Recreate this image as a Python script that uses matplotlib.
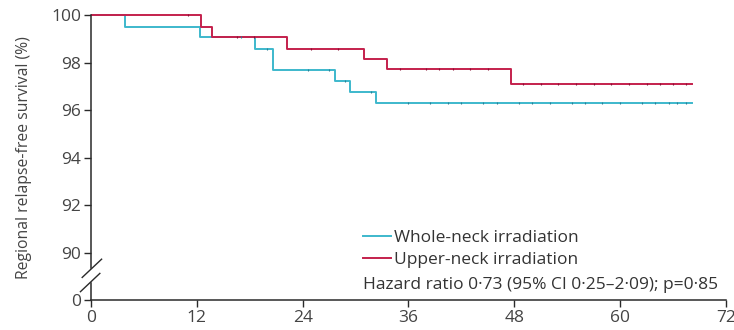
import numpy as np
import matplotlib.pyplot as plt

plt.rcParams['font.family'] = ['Open Sans', 'DejaVu Sans']

# step curves: event times (months) and survival (%) after each step
whole_t = [0, 3.9, 12.4, 18.6, 20.6, 27.7, 29.4, 32.3, 68.2]
whole_s = [100, 99.53, 99.07, 98.6, 97.68, 97.22, 96.76, 96.3, 96.3]
upper_t = [0, 12.5, 13.7, 22.2, 31.0, 33.6, 47.6, 68.2]
upper_s = [100, 99.53, 99.07, 98.6, 98.18, 97.74, 97.1, 97.1]

# censored observations
whole_cens = [17.0, 20.0, 24.6, 27.0, 28.8, 31.8, 36.0, 38.4, 40.5, 42.0, 44.5, 46.0, 48.5,
              50.0, 52.0, 54.5, 56.0, 58.0, 60.0, 62.5, 64.0, 65.5, 66.5, 67.5]
upper_cens = [11.0, 16.5, 18.5, 25.0, 28.0, 35.0, 38.0, 39.5, 41.0, 43.0, 45.0, 49.0, 51.0,
              53.0, 55.0, 57.0, 59.0, 61.0, 63.0, 64.5, 66.0, 67.5]

xticks = [0, 12, 24, 36, 48, 60, 72]
yticks = [88, 90, 92, 94, 96, 98, 100]
ylabels = ['0', '90', '92', '94', '96', '98', '100']

c_whole = '#3db8cc'
c_upper = '#c4204c'
ink = '#2a2a2a'

def surv_at(ts, ss, x):
    idx = np.searchsorted(ts, x, side='right') - 1
    return np.array(ss)[idx]

fig = plt.figure(figsize=(7.34, 3.30), dpi=100)
ax = fig.add_axes([0.124, 0.091, 0.865, 0.866])

ax.step(whole_t, whole_s, where='post', color=c_whole, lw=1.4, label='Whole-neck irradiation')
ax.step(upper_t, upper_s, where='post', color=c_upper, lw=1.4, label='Upper-neck irradiation')
ax.plot(whole_cens, surv_at(whole_t, whole_s, whole_cens), ls='none', marker='|',
        ms=2, mew=0.8, color='#2a7f95')
ax.plot(upper_cens, surv_at(upper_t, upper_s, upper_cens), ls='none', marker='|',
        ms=2, mew=0.8, color='#8a1035')

ax.set_xlim(0, 72)
ax.set_ylim(88, 100.05)
ax.set_xticks(xticks)
ax.set_yticks(yticks)
ax.set_yticklabels(ylabels)
ax.tick_params(axis='both', colors=ink, labelcolor='#444444', labelsize=12.5, width=1, length=5)
ax.tick_params(axis='x', pad=2)
ax.tick_params(axis='y', pad=2)

for s in ['top', 'right']:
    ax.spines[s].set_visible(False)
ax.spines['left'].set_bounds(89.35, 100)
ax.spines['left'].set_color(ink)
ax.spines['bottom'].set_color(ink)
ax.spines['bottom'].set_linewidth(1.1)
ax.spines['left'].set_linewidth(1.1)

# axis break
ax.plot([0, 0], [88, 88.72], color=ink, lw=1.1, clip_on=False)
ax.plot([-1.0, 1.2], [88.95, 89.72], color=ink, lw=1.0, clip_on=False)
ax.plot([-1.2, 1.0], [88.35, 89.12], color=ink, lw=1.0, clip_on=False)

ax.set_ylabel('Regional relapse-free survival (%)', fontsize=11.3, color='#444444', labelpad=14)

leg = ax.legend(loc='upper left', bbox_to_anchor=(0.428, 0.245), frameon=False,
                fontsize=12.5, handlelength=1.6, handletextpad=0.2, labelspacing=0.32,
                borderaxespad=0, borderpad=0)
for t in leg.get_texts():
    t.set_color('#333333')
ax.text(0.428, 0.038, 'Hazard ratio 0·73 (95% CI 0·25–2·09); p=0·85', transform=ax.transAxes,
        fontsize=12.5, color='#333333', va='baseline')

fig.savefig('out.png', dpi=100)
